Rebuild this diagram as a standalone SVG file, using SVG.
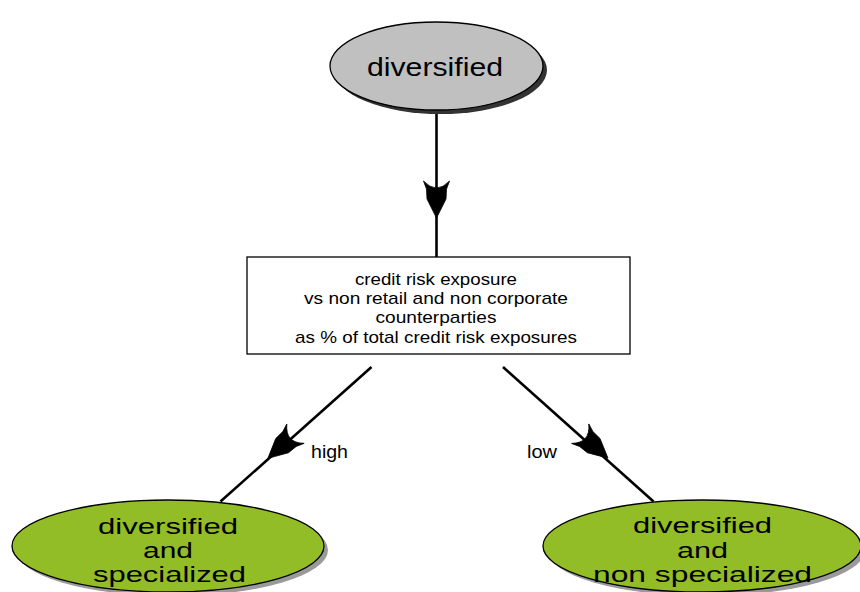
<svg xmlns="http://www.w3.org/2000/svg" width="860" height="592" viewBox="0 0 860 592">
<style>
  text { font-family: "Liberation Sans", Arial, sans-serif; fill: #000; text-anchor: middle; }
  .big { font-size: 26px; }
  .bot { font-size: 22px; }
  .box { font-size: 17px; }
  .lbl { font-size: 18px; text-anchor: start; }
  .edge { stroke: #000; stroke-width: 2.6; fill: none; }
  .ah { fill: #000; stroke: #000; stroke-width: 0.8; stroke-linejoin: round; }
  .green { fill: #93bd26; stroke: #000; stroke-width: 1.3; }
</style>
<defs>
  <path id="ah" d="M-13,-2 L-10,6 L-9.5,16 L-3,29 L0,35 L3,29 L9.5,16 L10,6 L13,-2 Q0,12 -13,-2 Z"/>
</defs>
<rect x="0" y="0" width="860" height="592" fill="#fff"/>

<g id="connectors">
  <line class="edge" x1="436.5" y1="110" x2="436.5" y2="257"/>
  <use href="#ah" class="ah" transform="translate(436.5,183)"/>
  <line class="edge" x1="371.5" y1="367" x2="220.5" y2="501.5"/>
  <use href="#ah" class="ah" transform="translate(294,435) rotate(48.2)"/>
  <line class="edge" x1="503" y1="367" x2="653.5" y2="501.5"/>
  <use href="#ah" class="ah" transform="translate(581.7,435) rotate(-48.6)"/>
  <text class="lbl" x="311" y="458" textLength="37" lengthAdjust="spacingAndGlyphs">high</text>
  <text class="lbl" x="527" y="458" textLength="30" lengthAdjust="spacingAndGlyphs">low</text>
</g>

<g id="node-diversified">
  <ellipse cx="440.5" cy="70" rx="106.5" ry="44" fill="#333"/>
  <ellipse cx="436.5" cy="66" rx="106.5" ry="44" fill="#c0c0c0" stroke="#000" stroke-width="1.3"/>
  <text class="big" x="435" y="76" textLength="136" lengthAdjust="spacingAndGlyphs">diversified</text>
</g>

<g id="node-question">
  <rect x="247" y="257" width="383" height="97" fill="#fff" stroke="#000" stroke-width="1.3"/>
  <text class="box" x="436" y="285" textLength="162" lengthAdjust="spacingAndGlyphs">credit risk exposure</text>
  <text class="box" x="436" y="304.2" textLength="264" lengthAdjust="spacingAndGlyphs">vs non retail and non corporate</text>
  <text class="box" x="436" y="323.4" textLength="121" lengthAdjust="spacingAndGlyphs">counterparties</text>
  <text class="box" x="436" y="342.6" textLength="282" lengthAdjust="spacingAndGlyphs">as % of total credit risk exposures</text>
</g>

<g id="node-specialized">
  <ellipse cx="172" cy="550" rx="156" ry="46" fill="#9a9a9a"/>
  <ellipse cx="168" cy="546" rx="156" ry="46" class="green"/>
  <text class="bot" x="168" y="534" textLength="140" lengthAdjust="spacingAndGlyphs">diversified</text>
  <text class="bot" x="168" y="558" textLength="50" lengthAdjust="spacingAndGlyphs">and</text>
  <text class="bot" x="169.5" y="582" textLength="153" lengthAdjust="spacingAndGlyphs">specialized</text>
</g>

<g id="node-nonspecialized">
  <ellipse cx="706" cy="550" rx="159" ry="46" fill="#9a9a9a"/>
  <ellipse cx="702" cy="546" rx="159" ry="46" class="green"/>
  <text class="bot" x="702.5" y="533" textLength="139" lengthAdjust="spacingAndGlyphs">diversified</text>
  <text class="bot" x="702.5" y="558" textLength="51" lengthAdjust="spacingAndGlyphs">and</text>
  <text class="bot" x="702.5" y="582" textLength="219" lengthAdjust="spacingAndGlyphs">non specialized</text>
</g>
</svg>
